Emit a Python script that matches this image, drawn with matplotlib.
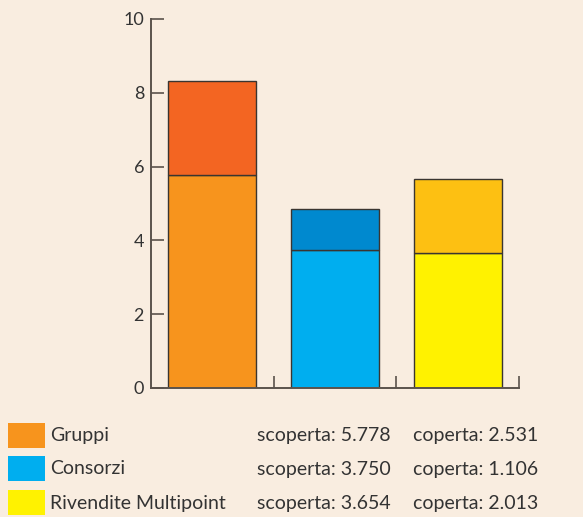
import matplotlib
matplotlib.use('Agg')
import matplotlib.pyplot as plt
import numpy as np
from matplotlib.patches import Rectangle

# dati: quota scoperta / coperta per canale
categorie = ['Gruppi', 'Consorzi', 'Rivendite Multipoint']
scoperta = [5.778, 3.750, 3.654]
coperta = [2.531, 1.106, 2.013]
y_ticks = [0, 2, 4, 6, 8, 10]

colori_scoperta = ['#F7941D', '#00AEEF', '#FFF200']
colori_coperta = ['#F36522', '#0089CF', '#FDC012']
sfondo = '#F9EDE0'
assi = '#5B534C'

plt.rcParams['font.family'] = ['Lato', 'DejaVu Sans']

fig = plt.figure(figsize=(5.83, 5.17), dpi=100, facecolor=sfondo)
ax = fig.add_axes([151 / 583, 129 / 517, 368 / 583, 369 / 517])
ax.set_facecolor(sfondo)

x = np.arange(len(categorie))
ax.bar(x, scoperta, 0.72, color=colori_scoperta, edgecolor='#3a3530', linewidth=1.0)
ax.bar(x, coperta, 0.72, bottom=scoperta, color=colori_coperta, edgecolor='#3a3530', linewidth=1.0)

ax.set_xlim(-0.5, 2.5)
ax.set_ylim(0, 10)
ax.set_yticks(y_ticks)
ax.set_xticks(x + 0.5)
ax.set_xticklabels([])
ax.tick_params(axis='y', direction='in', length=9, width=1.2, color=assi,
               labelsize=13, labelcolor='#333333', pad=5)
ax.tick_params(axis='x', direction='in', length=9, width=1.2, color=assi)
for s in ['top', 'right']:
    ax.spines[s].set_visible(False)
for s in ['left', 'bottom']:
    ax.spines[s].set_color(assi)
    ax.spines[s].set_linewidth(1.4)

# legenda con i valori
righe_y = [436, 469, 503]
for i, nome in enumerate(categorie):
    yc = 1 - righe_y[i] / 517
    fig.patches.append(Rectangle((8 / 583, 1 - (righe_y[i] + 12) / 517), 37 / 583, 25 / 517,
                                 transform=fig.transFigure, facecolor=colori_scoperta[i],
                                 edgecolor='none'))
    fig.text(50 / 583, yc, nome, fontsize=14, color='#333333', va='center', ha='left')
    fig.text(257 / 583, yc, 'scoperta: %.3f' % scoperta[i], fontsize=14,
             color='#333333', va='center', ha='left')
    fig.text(413 / 583, yc, 'coperta: %.3f' % coperta[i], fontsize=14,
             color='#333333', va='center', ha='left')

fig.savefig('out.png', dpi=100, facecolor=sfondo)
